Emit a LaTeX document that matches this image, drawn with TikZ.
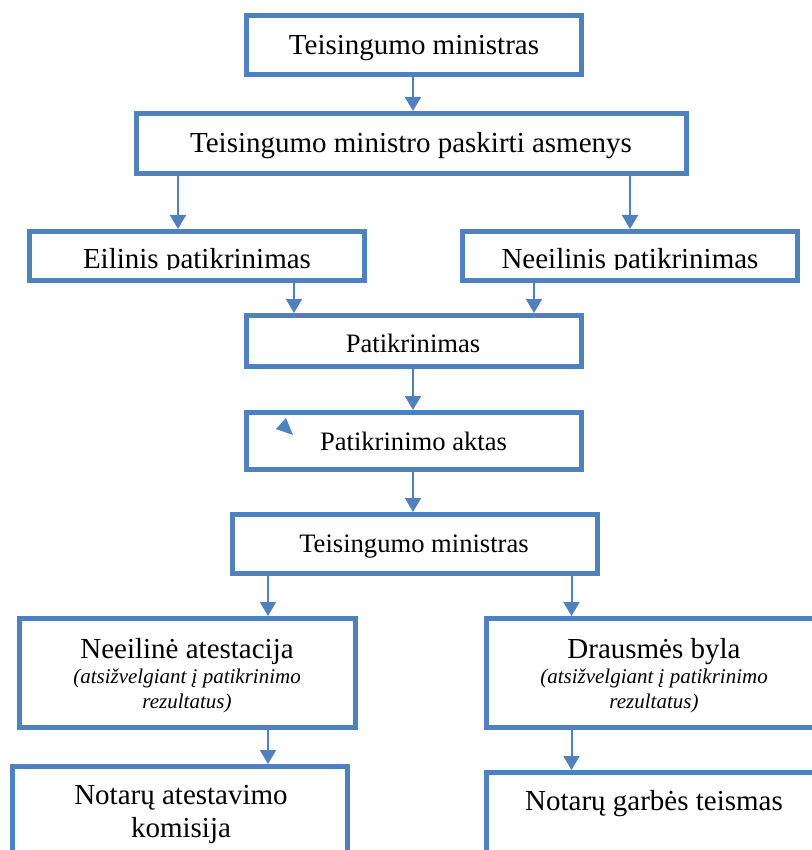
\documentclass[tikz,border=0pt]{standalone}
\usepackage{fontspec}
\setmainfont{Liberation Serif}
\usetikzlibrary{arrows.meta}
\definecolor{frame}{rgb}{0.31, 0.506, 0.741}

\tikzset{
  box/.style={draw=frame, line width=2.5pt, outer sep=1.25pt, inner sep=0pt, fill=white},
  link/.style={draw=frame, line width=1pt, -{Triangle[width=8pt,length=7pt]}},
  big/.style={anchor=base, inner sep=0pt, font=\fontsize{14.5}{17}\selectfont},
  mid/.style={anchor=base, inner sep=0pt, font=\fontsize{13.3}{16}\selectfont},
  note/.style={anchor=base, inner sep=0pt, font=\fontsize{10.5}{12.5}\selectfont\itshape},
}

\begin{document}
\begin{tikzpicture}[x=0.5pt, y=-0.5pt]
  \useasboundingbox (0,0) rectangle (811,850);
  % boxes
  \node[box, minimum width=167.5pt, minimum height=29.5pt] (min1) at (414,45) {};
  \node[box, minimum width=275pt, minimum height=30pt] (asm) at (411.5,143.5) {};
  \node[box, minimum width=167.5pt, minimum height=24.5pt] (eil) at (197,256) {};
  \node[box, minimum width=167.5pt, minimum height=24.5pt] (neeil) at (630,256) {};
  \node[box, minimum width=167.5pt, minimum height=25.5pt] (pat) at (414,341) {};
  \node[box, minimum width=167.5pt, minimum height=28.5pt] (aktas) at (414,441) {};
  \node[box, minimum width=182.5pt, minimum height=29.5pt] (min2) at (414.5,544) {};
  \node[box, minimum width=167.75pt, minimum height=54.5pt] (atest) at (187.25,673) {};
  \node[box, minimum width=167.5pt, minimum height=54.5pt] (byla) at (654,673) {};
  \node[box, minimum width=167.5pt, minimum height=65.5pt] (komis) at (180,832) {};
  \node[box, minimum width=167.5pt, minimum height=65.5pt] (teism) at (654,838) {};

  % texts
  \node[big] (t1) at (414,55) {Teisingumo ministras};
  \node[big] (t2) at (411,153) {Teisingumo ministro paskirti asmenys};
  \begin{scope}
    \clip (0,229) rectangle (811,269.5);
    \node[big] (t3) at (197,268) {Eilinis patikrinimas};
    \node[big] (t4) at (630,268) {Neeilinis patikrinimas};
  \end{scope}
  \node[mid] (t5) at (413,352) {Patikrinimas};
  \node[mid] (t6) at (413.5,450) {Patikrinimo aktas};
  \node[mid] (t7) at (414,552) {Teisingumo ministras};
  \node[big] (t8) at (187,658) {Neeilinė atestacija};
  \node[note] (t8a) at (187,683) {(atsižvelgiant į patikrinimo};
  \node[note] (t8b) at (187,708) {rezultatus)};
  \node[big] (t9) at (654,658) {Drausmės byla};
  \node[note] (t9a) at (654,683) {(atsižvelgiant į patikrinimo};
  \node[note] (t9b) at (654,708) {rezultatus)};
  \node[big] (t10) at (181,804) {Notarų atestavimo};
  \node[big] (t10a) at (181,837) {komisija};
  \node[big] (t11) at (654,810) {Notarų garbės teismas};

  % arrow columns
  \coordinate (cA) at (178,0);
  \coordinate (cB) at (294,0);
  \coordinate (cC) at (534,0);
  \coordinate (cD) at (268,0);
  \coordinate (cE) at (571.5,0);
  \coordinate (cF) at (413,0);

  \draw[link] (min1.south -| cF) -- (asm.north -| cF);
  \draw[link] (asm.south -| cA) -- (eil.north -| cA);
  \draw[link] (asm.south -| neeil.north) -- (neeil.north);
  \draw[link] (eil.south -| cB) -- (pat.north -| cB);
  \draw[link] (neeil.south -| cC) -- (pat.north -| cC);
  \draw[link] (pat.south -| cF) -- (aktas.north -| cF);
  \draw[link] (aktas.south -| cF) -- (min2.north -| cF);
  \draw[link] (min2.south -| cD) -- (atest.north -| cD);
  \draw[link] (min2.south -| cE) -- (byla.north -| cE);
  \draw[link] (atest.south -| cD) -- (komis.north -| cD);
  \draw[link] (byla.south -| cE) -- (teism.north -| cE);

  %stray tip inside the act box
  \fill[frame] (286,418) -- (276,429) -- (293,435) -- cycle;
\end{tikzpicture}
\end{document}
